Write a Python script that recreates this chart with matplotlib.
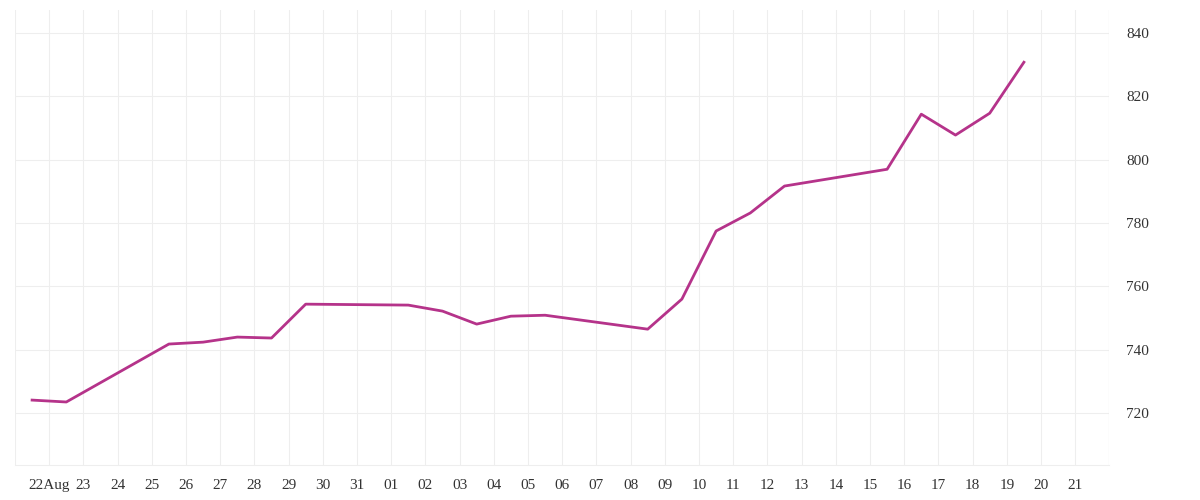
import matplotlib.pyplot as plt
import matplotlib.dates as mdates
import datetime as dt

# data points (half-day timestamps)
days = [21.5, 22.5, 25.5, 26.5, 27.5, 28.5, 29.5, 32.5, 33.5, 34.5, 35.5, 36.5,
        39.5, 40.5, 41.5, 42.5, 43.5, 46.5, 47.5, 48.5, 49.5, 50.5]
values = [724.1, 723.5, 741.8, 742.4, 744.0, 743.7, 754.4, 754.1, 752.2, 748.1, 750.6, 750.9,
          746.5, 756.0, 777.5, 783.2, 791.7, 797.0, 814.4, 807.8, 814.7, 830.8]

base = dt.datetime(2023, 8, 1)
dates = [base + dt.timedelta(days=d - 1) for d in days]

plt.rcParams['font.family'] = ['Liberation Serif', 'DejaVu Serif']
fig = plt.figure(figsize=(12, 5), dpi=100)
ax = fig.add_axes([0.0125, 0.07, 0.912, 0.91])

ax.plot(dates, values, color='#b5338a', linewidth=2)

ax.set_xlim(dt.datetime(2023, 8, 21), dt.datetime(2023, 9, 22))
ax.set_ylim(703.6, 847.3)

ticks = [dt.datetime(2023, 8, 22) + dt.timedelta(days=i) for i in range(31)]
labels = [t.strftime('%d') for t in ticks]
labels[0] = '22Aug'
ax.set_xticks(ticks)
ax.set_xticklabels(labels)
ax.xaxis.set_minor_locator(mdates.DayLocator())
ax.set_yticks([720, 740, 760, 780, 800, 820, 840])
ax.yaxis.tick_right()

ax.grid(True, which='both', color='#eeeeee', linewidth=0.8)
ax.tick_params(axis='both', which='both', length=0, labelsize=11, colors='#333333')
ax.tick_params(axis='y', pad=12)
ax.tick_params(axis='x', pad=10)
for s in ax.spines.values():
    s.set_visible(False)
ax.spines['bottom'].set_visible(True)
ax.spines['bottom'].set_color('#eeeeee')
ax.axvline(dt.datetime(2023, 9, 22), color='#dddddd', linewidth=0.8)

fig.savefig('out.png')
